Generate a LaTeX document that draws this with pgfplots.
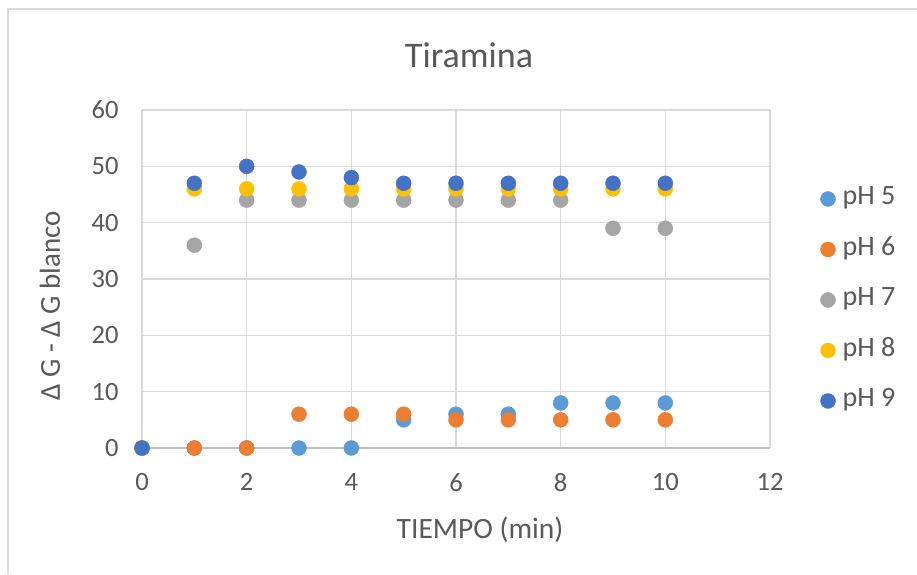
\documentclass[border=0pt]{standalone}
\usepackage{pgfplots}
\pgfplotsset{compat=1.18}
\usepackage{fontspec}
\setmainfont{Carlito}
\definecolor{txt}{HTML}{595959}
\definecolor{gridc}{HTML}{D9D9D9}
\definecolor{axc}{HTML}{BFBFBF}
\definecolor{cA}{HTML}{5B9BD5}
\definecolor{cB}{HTML}{ED7D31}
\definecolor{cC}{HTML}{A5A5A5}
\definecolor{cD}{HTML}{FFC000}
\definecolor{cE}{HTML}{4472C4}
\begin{document}
\begin{tikzpicture}[x=1pt,y=1pt]
\path[use as bounding box] (0,0) rectangle (917,574);
\draw[gridc, line width=1.5pt] (8,0) -- (8,565) -- (917,565);
\begin{axis}[
  at={(142pt,126pt)}, anchor=south west,
  scale only axis, width=628pt, height=338pt,
  xmin=0, xmax=12, ymin=0, ymax=60,
  xtick={0,2,...,12}, ytick={0,10,...,60},
  grid=major, major grid style={gridc, line width=1.2pt},
  axis line style={draw=none},
  tick style={draw=none},
  ticklabel style={font=\fontsize{26.5}{30}\selectfont, text=txt},
  /pgf/number format/assume math mode=true,
  xticklabel style={yshift=-22pt},
  yticklabel style={xshift=-20pt},
  legend style={at={(1.075,0.438)}, anchor=west, draw=none, fill=none,
    font=\fontsize{28}{30}\selectfont, text=txt,
    nodes={text height=18pt, text depth=6pt, inner sep=1pt},
    row sep=24.5pt, legend cell align=left},
  /tikz/every odd column/.append style={column sep=6pt},
  legend image code/.code={\fill (0pt,0pt) circle (7.5pt);},
  clip=false,
]
\addplot[only marks, mark=*, mark size=7.5pt, cA, mark options={draw=none, fill=cA}] coordinates {
(0,0)(1,0)(2,0)(3,0)(4,0)(5,5)(6,6)(7,6)(8,8)(9,8)(10,8)};
\addlegendentry{pH 5}
\addplot[only marks, mark=*, mark size=7.5pt, cB, mark options={draw=none, fill=cB}] coordinates {
(0,0)(1,0)(2,0)(3,6)(4,6)(5,6)(6,5)(7,5)(8,5)(9,5)(10,5)};
\addlegendentry{pH 6}
\addplot[only marks, mark=*, mark size=7.5pt, cC, mark options={draw=none, fill=cC}] coordinates {
(0,0)(1,36)(2,44)(3,44)(4,44)(5,44)(6,44)(7,44)(8,44)(9,39)(10,39)};
\addlegendentry{pH 7}
\addplot[only marks, mark=*, mark size=7.5pt, cD, mark options={draw=none, fill=cD}] coordinates {
(0,0)(1,46)(2,46)(3,46)(4,46)(5,46)(6,46)(7,46)(8,46)(9,46)(10,46)};
\addlegendentry{pH 8}
\addplot[only marks, mark=*, mark size=7.5pt, cE, mark options={draw=none, fill=cE}] coordinates {
(0,0)(1,47)(2,50)(3,49)(4,48)(5,47)(6,47)(7,47)(8,47)(9,47)(10,47)};
\addlegendentry{pH 9}
\draw[axc, line width=1.5pt] (axis cs:0,0) -- (axis cs:12,0);
\end{axis}
\node[text=txt, font=\fontsize{36}{40}\selectfont] at (469,519) {Tiramina};
\node[text=txt, font=\fontsize{29.5}{32}\selectfont] at (480,44) {TIEMPO (min)};
\node[text=txt, font=\fontsize{29}{32}\selectfont, rotate=90] at (50,268) {Δ G - Δ G blanco};
\end{tikzpicture}
\end{document}
